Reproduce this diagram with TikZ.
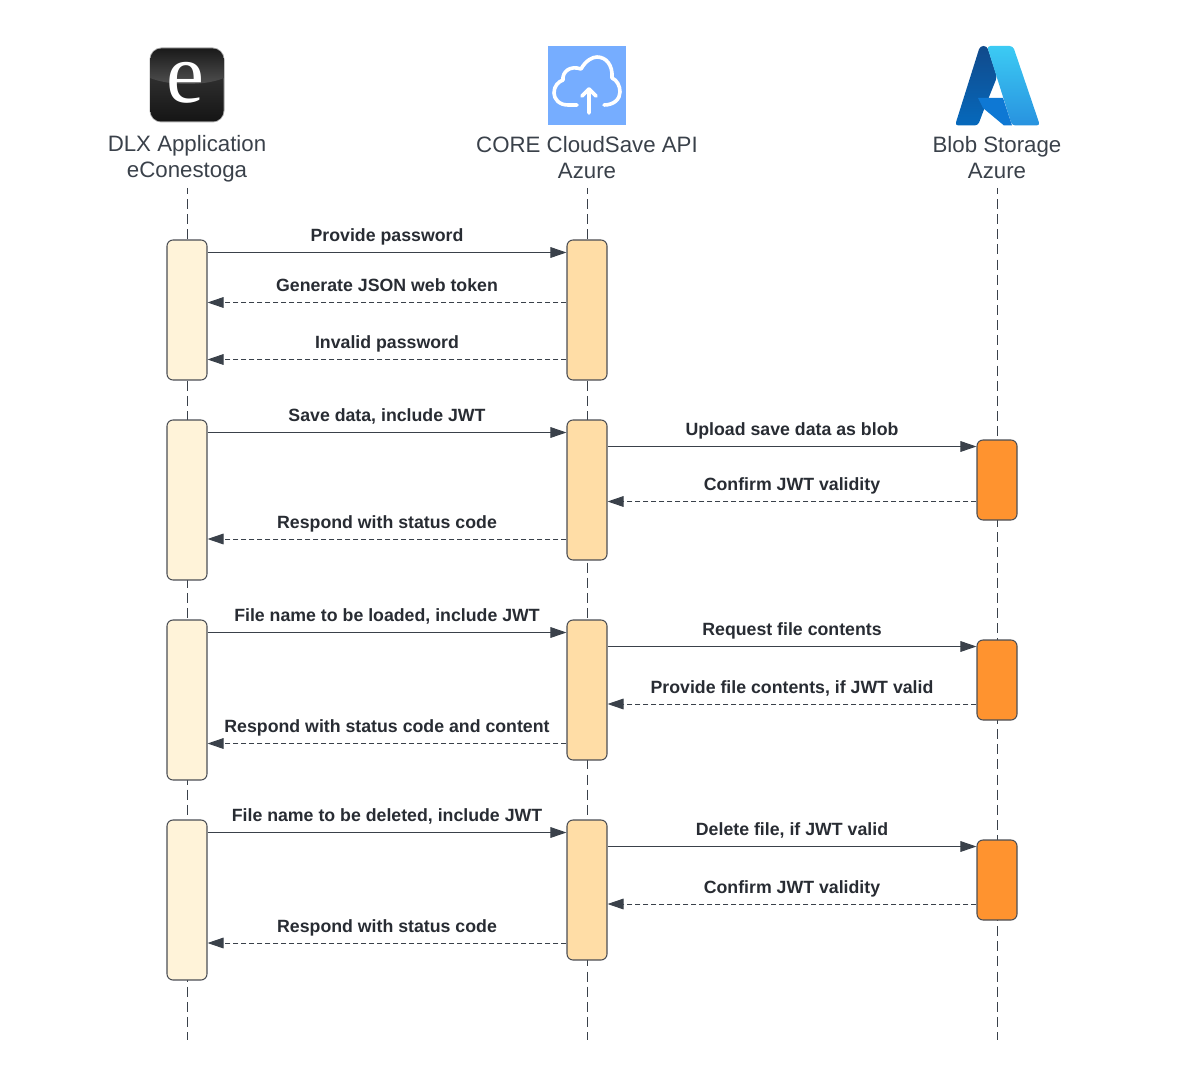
\documentclass[tikz,border=0pt]{standalone}
\usepackage{fontspec}
\setmainfont{Liberation Sans}
\newfontfamily\logofont{Liberation Serif}
\usetikzlibrary{arrows.meta}
\definecolor{inkgray}{HTML}{3A414A}
\definecolor{labelgray}{HTML}{282C33}
\definecolor{edgegray}{HTML}{4B4E55}
\definecolor{dlxfill}{HTML}{FFF3D9}
\definecolor{corefill}{HTML}{FFDDA6}
\definecolor{blobfill}{HTML}{FF932F}
\definecolor{cloudblue}{HTML}{76ADFF}
\definecolor{azdarktop}{HTML}{114A8B}
\definecolor{azdarkbot}{HTML}{0669BC}
\definecolor{azlighttop}{HTML}{3CCBF4}
\definecolor{azlightbot}{HTML}{2892DF}
\definecolor{azmid}{HTML}{0E78D4}
\tikzset{
  headlabel/.style={align=center,text=inkgray,inner sep=0pt,font=\fontsize{16.7}{19.7}\selectfont},
  msglabel/.style={midway,anchor=base,yshift=8pt,inner sep=0pt,text=labelgray,font=\fontsize{13.3}{15}\selectfont\bfseries},
  lifeline/.style={draw=inkgray,line width=0.75pt,dash pattern=on 7.5pt off 3.86pt,dash phase=3.1pt},
  actbox/.style={draw=edgegray,line width=0.8pt,rounded corners=4.5pt,minimum width=30pt,inner sep=0pt},
  dlxbox/.style={actbox,fill=dlxfill},
  corebox/.style={actbox,fill=corefill},
  blobbox/.style={actbox,fill=blobfill,minimum height=60pt},
  callmsg/.style={draw=inkgray,line width=0.75pt,-{Triangle[length=12pt,width=8pt]}},
  backmsg/.style={callmsg,dash pattern=on 3.75pt off 2.25pt}
}
\begin{document}
\begin{tikzpicture}[x=0.75pt,y=0.75pt]
\useasboundingbox (0,0) rectangle (1184,-1080);
% logos
\fill [black!35, rounded corners=9pt] (149.5,-47.5) rectangle (224.5,-122.5);
\begin{scope}
\clip [rounded corners=8pt] (150.5,-48.5) rectangle (223.5,-121.5);
\shade [top color=black!82, bottom color=black!92] (150,-78) rectangle (224,-122);
\shade [top color=black!90, bottom color=black!68] (150,-48) -- (224,-48) -- (224,-78) .. controls (205,-86) and (170,-86) .. (150,-78) -- cycle;
\end{scope}
\node [text=white, inner sep=0pt, font=\logofont\fontsize{64}{64}\selectfont] (dlxletter) at (185.5,-82.5) {e};
\fill [cloudblue] (547.6,-46) rectangle (626,-125);
\draw [white, line width=2.7pt, line cap=round, line join=round] (577,-105) -- (568,-105) .. controls (559,-105) and (554,-99) .. (554,-93) .. controls (554,-86) and (558,-82) .. (563,-80) .. controls (562,-72) and (570,-65) .. (581,-69) .. controls (586,-60) and (593,-57) .. (597,-57) .. controls (606,-57) and (613,-65) .. (612,-78) .. controls (617,-80) and (620,-86) .. (620,-92) .. controls (620,-99) and (614,-105) .. (604,-105);
\draw [white, line width=2.7pt, line cap=round, line join=round] (589,-113) -- (589,-89) (582,-96) -- (589,-89) -- (596,-96);
\shade [top color=azdarktop, bottom color=azdarkbot, rounded corners=2.5pt] (980,-46) -- (987,-46) -- (997,-77) -- (983,-112) -- (978,-125.5) -- (955,-125.5) -- cycle;
\shade [top color=azlighttop, bottom color=azlightbot, rounded corners=2.5pt] (987,-46) -- (1013,-46) -- (1040,-125.5) -- (1012,-125.5) -- cycle;
\fill [azmid] (978,-98) -- (1003,-98) -- (1012,-125.5) -- (1004,-125.5) -- (983,-108) -- cycle;
% heads
\node [headlabel] (dlxhead) at (187,-159) {DLX Application\\eConestoga};
\node [headlabel] (corehead) at (587,-157.5) {CORE CloudSave API\\Azure};
\node [headlabel] (blobhead) at (997,-157.5) {Blob Storage\\Azure};
% lifelines
\coordinate (dlxend) at (187,-1040);
\coordinate (coreend) at (587,-1040);
\coordinate (blobend) at (997,-1040);
\draw [lifeline] (dlxhead.south |- 0,-188) -- (dlxend);
\draw [lifeline] (corehead.south |- 0,-188) -- (coreend);
\draw [lifeline] (blobhead.south |- 0,-188) -- (blobend);
% activation boxes
\node [dlxbox, minimum height=105pt] (dlxa) at (187,-310) {};
\node [corebox, minimum height=105pt] (corea) at (587,-310) {};
\node [dlxbox, minimum height=120pt] (dlxb) at (187,-500) {};
\node [corebox, minimum height=105pt] (coreb) at (587,-490) {};
\node [blobbox] (blobb) at (997,-480) {};
\node [dlxbox, minimum height=120pt] (dlxc) at (187,-700) {};
\node [corebox, minimum height=105pt] (corec) at (587,-690) {};
\node [blobbox] (blobc) at (997,-680) {};
\node [dlxbox, minimum height=120pt] (dlxd) at (187,-900) {};
\node [corebox, minimum height=105pt] (cored) at (587,-890) {};
\node [blobbox] (blobd) at (997,-880) {};
% messages
\draw [callmsg] (dlxa.east |- 0,-252.5) -- node [msglabel] (m1) {Provide password} (corea.west |- 0,-252.5);
\draw [backmsg] (corea.west |- 0,-302.5) -- node [msglabel] (m2) {Generate JSON web token} (dlxa.east |- 0,-302.5);
\draw [backmsg] (corea.west |- 0,-359.5) -- node [msglabel] (m3) {Invalid password} (dlxa.east |- 0,-359.5);
\draw [callmsg] (dlxb.east |- 0,-432.5) -- node [msglabel] (m4) {Save data, include JWT} (coreb.west |- 0,-432.5);
\draw [callmsg] (coreb.east |- 0,-446.5) -- node [msglabel] (m5) {Upload save data as blob} (blobb.west |- 0,-446.5);
\draw [backmsg] (blobb.west |- 0,-501.5) -- node [msglabel] (m6) {Confirm JWT validity} (coreb.east |- 0,-501.5);
\draw [backmsg] (coreb.west |- 0,-539) -- node [msglabel] (m7) {Respond with status code} (dlxb.east |- 0,-539);
\draw [callmsg] (dlxc.east |- 0,-632.5) -- node [msglabel] (m8) {File name to be loaded, include JWT} (corec.west |- 0,-632.5);
\draw [callmsg] (corec.east |- 0,-646.5) -- node [msglabel] (m9) {Request file contents} (blobc.west |- 0,-646.5);
\draw [backmsg] (blobc.west |- 0,-704) -- node [msglabel] (m10) {Provide file contents, if JWT valid} (corec.east |- 0,-704);
\draw [backmsg] (corec.west |- 0,-743.5) -- node [msglabel] (m11) {Respond with status code and content} (dlxc.east |- 0,-743.5);
\draw [callmsg] (dlxd.east |- 0,-832.5) -- node [msglabel] (m12) {File name to be deleted, include JWT} (cored.west |- 0,-832.5);
\draw [callmsg] (cored.east |- 0,-846.5) -- node [msglabel] (m13) {Delete file, if JWT valid} (blobd.west |- 0,-846.5);
\draw [backmsg] (blobd.west |- 0,-904) -- node [msglabel] (m14) {Confirm JWT validity} (cored.east |- 0,-904);
\draw [backmsg] (cored.west |- 0,-943) -- node [msglabel] (m15) {Respond with status code} (dlxd.east |- 0,-943);
\end{tikzpicture}
\end{document}
